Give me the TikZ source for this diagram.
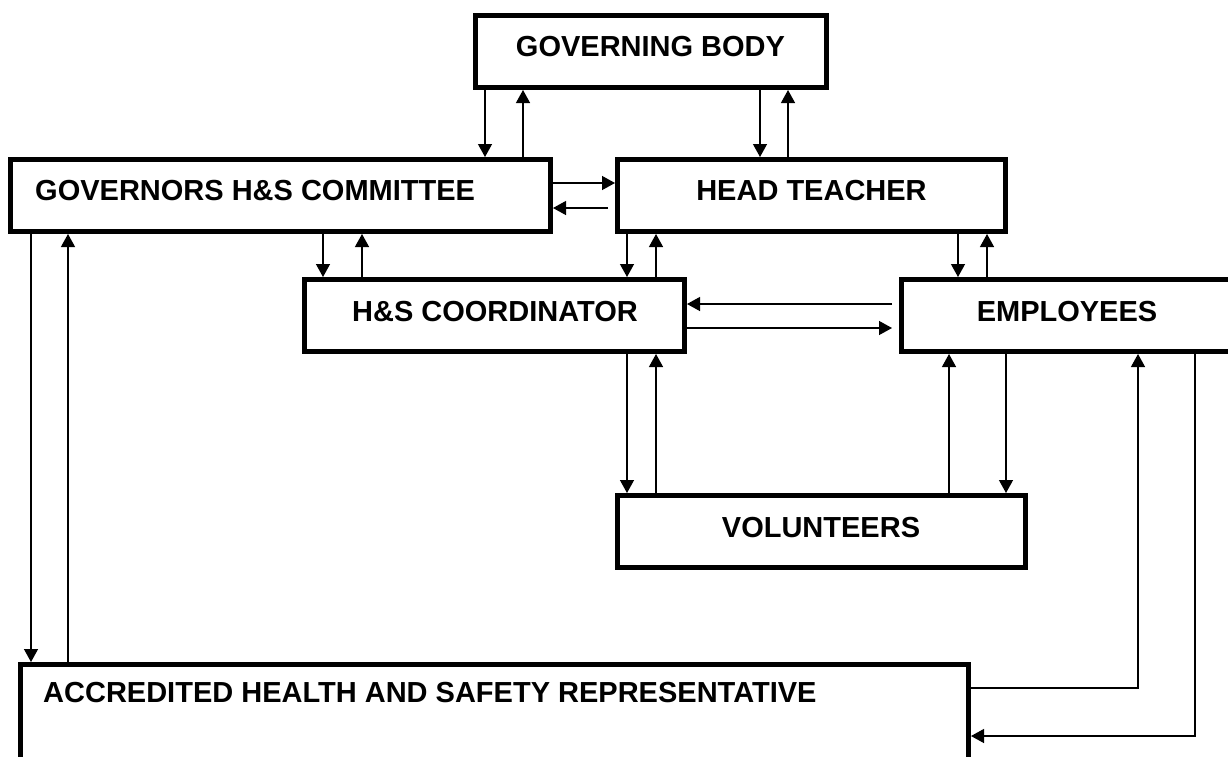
\documentclass[tikz,border=0pt]{standalone}
\usepackage{fontspec}
\setmainfont{Liberation Sans}
\usetikzlibrary{arrows.meta}
\tikzset{
  box/.style={draw, line width=5pt, inner sep=0pt, rectangle},
  lbl/.style={font=\fontsize{29pt}{34pt}\selectfont\bfseries, inner sep=0pt},
  arr/.style={line width=1.3pt, -{Triangle[length=13pt,width=14pt]}},
}
\begin{document}
\begin{tikzpicture}[x=1pt,y=-1pt]
\clip (0,0) rectangle (1228,756);
\fill[white] (0,0) rectangle (1228,756);
% boxes
\node[box, minimum width=351pt, minimum height=72pt] (gb) at (650.5,51.5) {};
\node[box, minimum width=540pt, minimum height=72pt] (ghsc) at (280.5,195.5) {};
\node[box, minimum width=388pt, minimum height=72pt] (ht) at (811.5,195.5) {};
\node[box, minimum width=380pt, minimum height=72pt] (hsc) at (494.5,315.5) {};
\node[box, minimum width=340pt, minimum height=72pt] (emp) at (1071.5,315.5) {};
\node[box, minimum width=408pt, minimum height=72pt] (vol) at (821.5,531.5) {};
\node[box, minimum width=948pt, minimum height=100pt] (ahsr) at (494.5,714.5) {};
% labels
\node[lbl, anchor=base] (gbt) at (650.5,56.5) {GOVERNING BODY};
\node[lbl, anchor=base west] (ghsct) at (35,200.5) {GOVERNORS H\&S COMMITTEE};
\node[lbl, anchor=base] (htt) at (811.5,200.5) {HEAD TEACHER};
\node[lbl, anchor=base] (hsct) at (495,321) {H\&S COORDINATOR};
\node[lbl, anchor=base] (empt) at (1067,321) {EMPLOYEES};
\node[lbl, anchor=base] (volt) at (821,537) {VOLUNTEERS};
\node[lbl, anchor=base west] (ahsrt) at (43,702) {ACCREDITED HEALTH AND SAFETY REPRESENTATIVE};
% column / row helpers
\coordinate (c31) at (31,0);
\coordinate (c68) at (68,0);
\coordinate (c323) at (323,0);
\coordinate (c362) at (362,0);
\coordinate (c485) at (485,0);
\coordinate (c523) at (523,0);
\coordinate (c627) at (627,0);
\coordinate (c656) at (656,0);
\coordinate (c760) at (760,0);
\coordinate (c788) at (788,0);
\coordinate (c949) at (949,0);
\coordinate (c958) at (958,0);
\coordinate (c987) at (987,0);
\coordinate (c1006) at (1006,0);
\coordinate (r183) at (0,183);
\coordinate (p208) at (608,208);
\coordinate (p304) at (892,304);
\coordinate (p328) at (892,328);
\coordinate (k688) at (1138,688);
\coordinate (k736) at (1195,736);
% governing body <-> committee / head teacher
\draw[arr] (gb.south -| c485) -- (ghsc.north -| c485);
\draw[arr] (ghsc.north -| c523) -- (gb.south -| c523);
\draw[arr] (gb.south -| c760) -- (ht.north -| c760);
\draw[arr] (ht.north -| c788) -- (gb.south -| c788);
% committee <-> head teacher
\draw[arr] (ghsc.east |- r183) -- (ht.west |- r183);
\draw[arr] (p208) -- (ghsc.east |- p208);
% committee <-> coordinator
\draw[arr] (ghsc.south -| c323) -- (hsc.north -| c323);
\draw[arr] (hsc.north -| c362) -- (ghsc.south -| c362);
% head teacher <-> coordinator / employees
\draw[arr] (ht.south -| c627) -- (hsc.north -| c627);
\draw[arr] (hsc.north -| c656) -- (ht.south -| c656);
\draw[arr] (ht.south -| c958) -- (emp.north -| c958);
\draw[arr] (emp.north -| c987) -- (ht.south -| c987);
% coordinator <-> employees
\draw[arr] (p304) -- (hsc.east |- p304);
\draw[arr] (hsc.east |- p328) -- (p328);
% coordinator <-> volunteers
\draw[arr] (hsc.south -| c627) -- (vol.north -| c627);
\draw[arr] (vol.north -| c656) -- (hsc.south -| c656);
% volunteers <-> employees
\draw[arr] (vol.north -| c949) -- (emp.south -| c949);
\draw[arr] (emp.south -| c1006) -- (vol.north -| c1006);
% committee <-> representative
\draw[arr] (ghsc.south -| c31) -- (ahsr.north -| c31);
\draw[arr] (ahsr.north -| c68) -- (ghsc.south -| c68);
% representative <-> employees
\draw[arr] (ahsr.east |- k688) -- (k688) -- (emp.south -| k688);
\draw[arr] (emp.south -| k736) -- (k736) -- (ahsr.east |- k736);
\end{tikzpicture}
\end{document}
